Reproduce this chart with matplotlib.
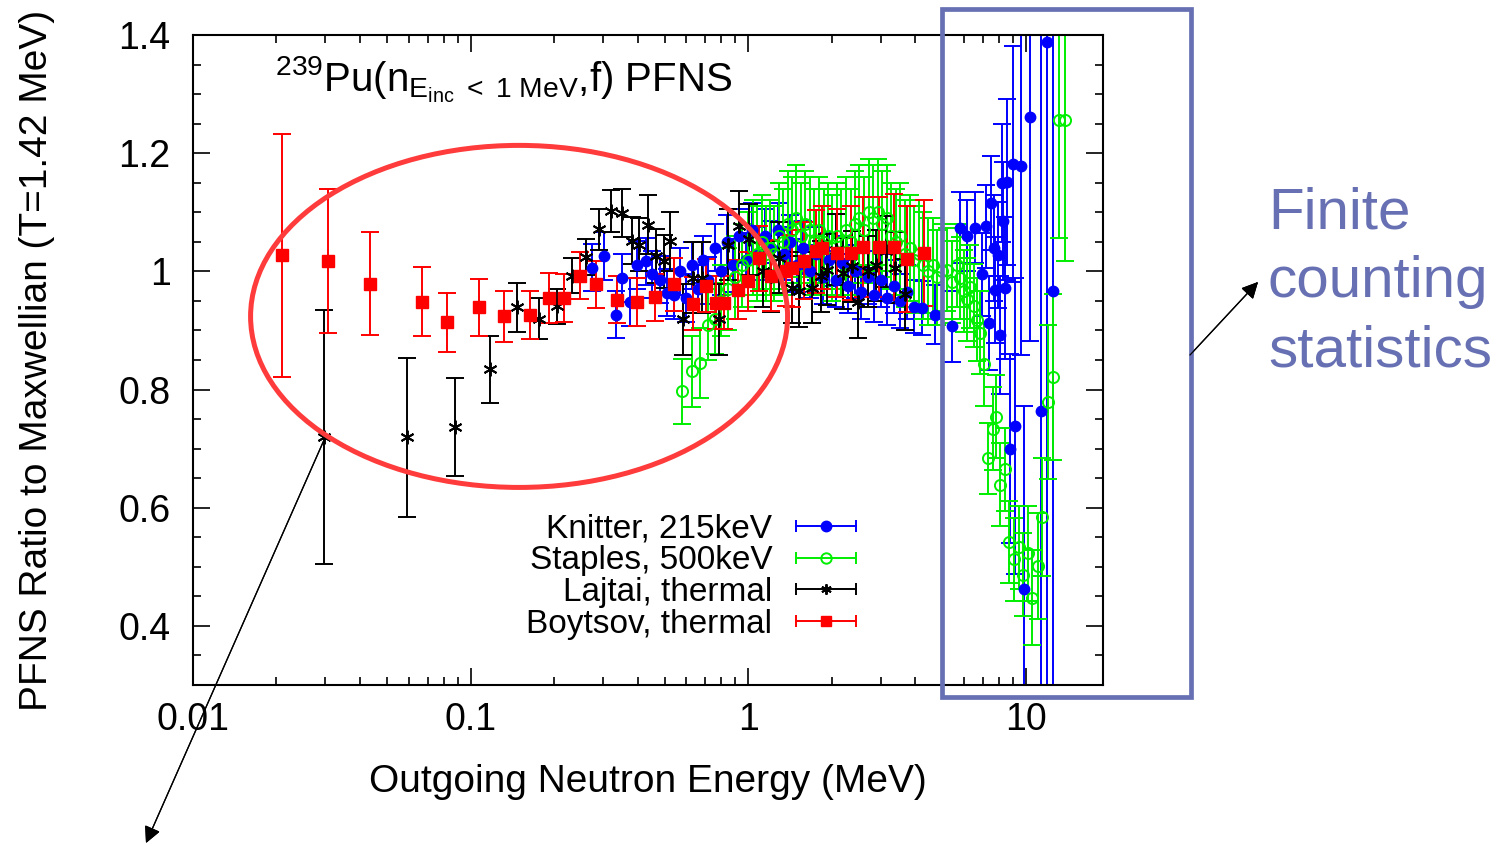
import matplotlib

matplotlib.use("Agg")
import matplotlib.pyplot as plt
from matplotlib.container import ErrorbarContainer
from matplotlib.legend_handler import HandlerBase
from matplotlib.lines import Line2D
from matplotlib.patches import Ellipse, Rectangle
from matplotlib.ticker import FormatStrFormatter, LogLocator, MultipleLocator

# Knitter, 215 keV (blue, filled circles)
knitter_e = [0.273, 0.302, 0.333, 0.35, 0.377, 0.398, 0.43, 0.45, 0.48, 0.51,
             0.54, 0.57, 0.60, 0.63, 0.66, 0.69, 0.72, 0.76, 0.80, 0.84,
             0.88, 0.93, 0.98, 1.03, 1.09, 1.15, 1.21, 1.28, 1.35, 1.42,
             1.50, 1.58, 1.67, 1.76, 1.86, 1.96, 2.07, 2.18, 2.30, 2.43,
             2.56, 2.70, 2.85, 3.01, 3.17, 3.35, 3.53, 3.73, 3.95, 4.24,
             4.70, 5.43, 5.82, 6.15, 6.56, 6.97, 7.2, 7.36, 7.5, 7.67,
             7.75, 7.94, 8.1, 8.2, 8.3, 8.4, 8.6, 8.8, 8.98, 9.18,
             9.65, 9.84, 10.4, 11.4, 11.9, 12.5]
knitter_r = [1.006, 1.026, 0.927, 0.989, 0.948, 1.011, 1.017, 0.995, 0.986, 0.964,
             0.96, 1.0, 0.955, 1.01, 0.97, 1.02, 0.985, 1.04, 1.0, 1.05,
             1.01, 1.06, 1.02, 1.07, 1.03, 1.06, 1.04, 1.07, 1.03, 1.05,
             1.01, 1.04, 1.0, 1.03, 0.99, 1.02, 0.985, 1.015, 0.975, 1.0,
             0.965, 0.99, 0.96, 0.985, 0.955, 0.975, 0.95, 0.965, 0.94, 0.938,
             0.927, 0.907, 1.074, 1.06, 1.074, 0.995, 1.076, 0.913, 1.116, 1.04,
             0.969, 1.028, 0.893, 1.15, 1.085, 0.972, 1.151, 0.70, 1.182, 0.738,
             1.179, 0.462, 1.262, 0.763, 1.389, 0.966]
knitter_err = [0.04, 0.04, 0.04, 0.04, 0.04, 0.04, 0.04, 0.04, 0.04, 0.04,
               0.04, 0.04, 0.04, 0.04, 0.04, 0.04, 0.04, 0.04, 0.04, 0.045,
               0.045, 0.045, 0.045, 0.045, 0.045, 0.045, 0.045, 0.045, 0.045, 0.045,
               0.045, 0.045, 0.045, 0.045, 0.045, 0.045, 0.045, 0.045, 0.045, 0.045,
               0.045, 0.045, 0.045, 0.045, 0.045, 0.045, 0.045, 0.045, 0.045, 0.045,
               0.05, 0.06, 0.06, 0.06, 0.06, 0.07, 0.07, 0.08, 0.08, 0.09,
               0.09, 0.09, 0.10, 0.10, 0.10, 0.12, 0.14, 0.16, 0.20, 0.25,
               0.32, 0.31, 0.38, 0.70, 1.10, 0.70]

# Staples, 500 keV (green, open circles)
staples_e = [0.58, 0.63, 0.67, 0.72, 0.76, 0.80, 0.85, 0.90, 0.95, 1.00,
             1.04, 1.08, 1.12, 1.16, 1.20, 1.24, 1.29, 1.34, 1.39, 1.44,
             1.49, 1.55, 1.61, 1.67, 1.73, 1.80, 1.87, 1.94, 2.01, 2.09,
             2.17, 2.25, 2.34, 2.43, 2.52, 2.62, 2.72, 2.82, 2.93, 3.04,
             3.16, 3.28, 3.41, 3.54, 3.68, 3.82, 3.97, 4.12, 4.28, 4.45,
             4.62, 4.80, 4.99, 5.21, 5.43, 5.66, 5.82, 5.98, 6.15, 6.32,
             6.5, 6.68, 6.87, 7.06, 7.31, 7.6, 7.84, 8.1, 8.4, 8.7,
             9.06, 9.44, 9.76, 10.2, 10.5, 11.1, 11.5, 12.0, 12.5, 13.2,
             13.9]
staples_r = [0.797, 0.831, 0.845, 0.91, 0.92, 0.95, 0.97, 0.99, 1.01, 1.02,
             1.04, 1.03, 1.05, 1.03, 1.04, 1.03, 1.06, 1.05, 1.08, 1.07,
             1.09, 1.06, 1.08, 1.07, 1.05, 1.07, 1.05, 1.06, 1.04, 1.06,
             1.05, 1.07, 1.05, 1.08, 1.09, 1.07, 1.10, 1.09, 1.10, 1.08,
             1.09, 1.06, 1.05, 1.06, 1.03, 1.04, 1.02, 1.03, 1.01, 1.0,
             1.01, 0.99, 1.0, 1.003, 0.982, 1.010, 0.989, 0.967, 0.953, 0.974,
             0.942, 0.918, 0.896, 0.843, 0.684, 0.734, 0.754, 0.639, 0.665, 0.542,
             0.513, 0.533, 0.487, 0.523, 0.448, 0.501, 0.584, 0.779, 0.821, 1.257,
             1.257]
staples_err = [0.055, 0.06, 0.06, 0.06, 0.06, 0.06, 0.07, 0.07, 0.07, 0.08,
               0.08, 0.08, 0.08, 0.08, 0.08, 0.08, 0.09, 0.09, 0.09, 0.09,
               0.09, 0.09, 0.09, 0.09, 0.09, 0.09, 0.09, 0.09, 0.09, 0.09,
               0.09, 0.09, 0.09, 0.09, 0.09, 0.09, 0.09, 0.09, 0.09, 0.09,
               0.09, 0.09, 0.09, 0.09, 0.09, 0.09, 0.09, 0.09, 0.09, 0.09,
               0.08, 0.08, 0.08, 0.07, 0.07, 0.07, 0.07, 0.07, 0.07, 0.07,
               0.07, 0.07, 0.07, 0.07, 0.06, 0.07, 0.07, 0.07, 0.07, 0.07,
               0.07, 0.07, 0.07, 0.08, 0.08, 0.09, 0.10, 0.13, 0.14, 0.20,
               0.24]

# Lajtai, thermal (black, asterisks)
lajtai_e = [0.0297, 0.059, 0.088, 0.118, 0.147, 0.176, 0.205, 0.233, 0.261, 0.291,
            0.321, 0.351, 0.382, 0.404, 0.435, 0.466, 0.496, 0.524, 0.585, 0.631,
            0.684, 0.788, 0.85, 0.929, 1.01, 1.13, 1.21, 1.29, 1.44, 1.52,
            1.70, 1.83, 1.93, 2.07, 2.20, 2.36, 2.49, 2.71, 2.90, 3.13,
            3.38, 3.69]
lajtai_r = [0.719, 0.719, 0.737, 0.834, 0.939, 0.920, 0.941, 0.993, 1.024, 1.071,
            1.102, 1.099, 1.052, 1.045, 1.079, 1.026, 1.017, 1.051, 0.919, 0.989,
            0.989, 0.919, 1.045, 1.076, 1.054, 1.0, 0.992, 1.023, 0.972, 0.966,
            0.972, 0.992, 1.003, 1.037, 0.997, 1.009, 0.948, 1.0, 1.010, 1.034,
            1.006, 0.961]
lajtai_err = [0.215, 0.135, 0.083, 0.057, 0.042, 0.035, 0.03, 0.03, 0.03, 0.035,
              0.035, 0.04, 0.04, 0.045, 0.05, 0.045, 0.045, 0.05, 0.06, 0.06,
              0.06, 0.06, 0.06, 0.06, 0.06, 0.06, 0.06, 0.06, 0.06, 0.06,
              0.06, 0.06, 0.06, 0.06, 0.06, 0.06, 0.06, 0.06, 0.06, 0.06,
              0.06, 0.06]

# Boytsov, thermal (red, filled squares)
boytsov_e = [0.0209, 0.0307, 0.0434, 0.0668, 0.0822, 0.1077, 0.1318, 0.164, 0.192, 0.218,
             0.248, 0.284, 0.338, 0.398, 0.462, 0.542, 0.631, 0.705, 0.764, 0.820,
             0.923, 0.996, 1.097, 1.21, 1.366, 1.44, 1.59, 1.75, 1.84, 2.09,
             2.34, 2.59, 2.97, 3.35, 3.74, 4.32]
boytsov_r = [1.027, 1.017, 0.979, 0.949, 0.914, 0.939, 0.924, 0.926, 0.955, 0.955,
             0.993, 0.978, 0.952, 0.948, 0.956, 0.978, 0.945, 0.976, 0.947, 0.947,
             0.969, 0.983, 1.022, 0.993, 1.001, 1.005, 1.018, 1.034, 1.040, 1.031,
             1.031, 1.041, 1.041, 1.041, 1.021, 1.031]
boytsov_err = [0.205, 0.122, 0.087, 0.059, 0.05, 0.048, 0.043, 0.04, 0.042, 0.04,
               0.04, 0.04, 0.04, 0.04, 0.04, 0.045, 0.045, 0.045, 0.045, 0.045,
               0.05, 0.05, 0.055, 0.06, 0.06, 0.065, 0.065, 0.07, 0.07, 0.075,
               0.08, 0.085, 0.085, 0.09, 0.09, 0.09]

SLATE = "#6670b3"


class GnuplotKey(HandlerBase):
    """Legend key drawn like gnuplot: horizontal bar with end caps and a marker."""

    def create_artists(self, legend, orig_handle, xdescent, ydescent,
                       width, height, fontsize, trans):
        src = orig_handle.lines[0]
        color = src.get_color()
        x0, x1 = -xdescent, width - xdescent
        y = height / 2 - ydescent
        bar = Line2D([x0, x1], [y, y], color=color, lw=1.4)
        caps = Line2D([x0, x1], [y, y], ls="none", marker="|", ms=9,
                      mew=1.4, color=color)
        mark = Line2D([(x0 + x1) / 2], [y], ls="none", marker=src.get_marker(),
                      ms=min(src.get_markersize(), 7.5),
                      mfc=src.get_markerfacecolor(),
                      mec=color, mew=src.get_markeredgewidth())
        for a in (bar, caps, mark):
            a.set_transform(trans)
        return [bar, caps, mark]


def main() -> None:
    plt.rcParams["font.family"] = ["Liberation Sans", "DejaVu Sans"]
    plt.rcParams["mathtext.fontset"] = "custom"
    plt.rcParams["mathtext.rm"] = "Liberation Sans"
    plt.rcParams["mathtext.it"] = "Liberation Sans"
    plt.rcParams["mathtext.default"] = "rm"

    fig = plt.figure(figsize=(15.05, 8.46), dpi=100)
    ax = fig.add_axes([0.1282, 0.1903, 0.6047, 0.7683])

    common = dict(lw=1.4, elinewidth=1.4, capsize=6.5, capthick=1.4, ls="none")
    ax.errorbar(knitter_e, knitter_r, yerr=knitter_err, color="#0000ff",
                marker="o", ms=7.5, label="Knitter, 215keV", **common)
    ax.errorbar(staples_e, staples_r, yerr=staples_err, color="#00ee00",
                marker="o", ms=8, mfc="none", mew=1.4,
                label="Staples, 500keV", **common)
    ax.errorbar(lajtai_e, lajtai_r, yerr=lajtai_err, color="black",
                marker=(6, 2, 0), ms=10, mew=1.4,
                label="Lajtai, thermal", **common)
    ax.errorbar(boytsov_e, boytsov_r, yerr=boytsov_err, color="#ff0000",
                marker="s", ms=8.5, label="Boytsov, thermal", **common)

    ax.set_xscale("log")
    ax.set_xlim(0.01, 19)
    ax.set_ylim(0.3, 1.4)
    ax.xaxis.set_major_locator(LogLocator(base=10, numticks=10))
    ax.xaxis.set_minor_locator(LogLocator(base=10, subs=range(2, 10), numticks=20))
    ax.xaxis.set_major_formatter(FormatStrFormatter("%g"))
    ax.yaxis.set_major_locator(MultipleLocator(0.2))
    ax.yaxis.set_minor_locator(MultipleLocator(0.05))
    ax.yaxis.set_major_formatter(FormatStrFormatter("%g"))
    ax.tick_params(which="both", direction="in", top=True, right=True,
                   labelsize=27, width=1.2)
    ax.tick_params(which="major", length=12)
    ax.tick_params(which="minor", length=6)
    ax.tick_params(axis="x", pad=12)
    ax.tick_params(axis="y", pad=16)
    for s in ax.spines.values():
        s.set_linewidth(1.5)

    ax.set_xlabel("Outgoing Neutron Energy (MeV)", fontsize=28)
    ax.set_ylabel("PFNS Ratio to Maxwellian (T=1.42 MeV)", fontsize=28)
    ax.xaxis.set_label_coords(0.5, -0.122)
    ax.yaxis.set_label_coords(-0.152, 0.5)

    ax.text(0.09, 0.912, r"$^{239}$Pu(n$_{E_{inc}\ <\ 1\ MeV}$,f) PFNS",
            transform=ax.transAxes, fontsize=29, va="baseline", ha="left")

    leg = ax.legend(loc="lower right", bbox_to_anchor=(0.754, 0.034),
                    frameon=False, fontsize=24, markerfirst=False,
                    handlelength=1.8, handletextpad=0.7, labelspacing=0.02,
                    borderpad=0.2, handler_map={ErrorbarContainer: GnuplotKey()})
    leg._legend_handle_box.get_children()[0].align = "right"

    # overlay annotations
    fig.patches.append(Ellipse((0.3449, 0.626), 0.3568, 0.4043,
                               transform=fig.transFigure, fill=False,
                               ec="#ff3b3b", lw=3.6))
    fig.patches.append(Rectangle((0.6257, 0.1761), 0.1657, 0.8132,
                                 transform=fig.transFigure, fill=False,
                                 ec=SLATE, lw=3.4))
    fig.text(0.8425, 0.78, "Finite\ncounting\nstatistics", color=SLATE,
             fontsize=42, ha="left", va="top", linespacing=1.36)
    fig.add_artist(plt.annotate(
        "", xy=(0.8359, 0.6667), xytext=(0.7907, 0.5804),
        xycoords="figure fraction", textcoords="figure fraction",
        arrowprops=dict(arrowstyle="-|>", color="black", lw=0.9,
                        mutation_scale=25, shrinkA=0, shrinkB=0)))
    fig.add_artist(plt.annotate(
        "", xy=(0.0970, 0.0035), xytext=(0.2153, 0.4799),
        xycoords="figure fraction", textcoords="figure fraction",
        arrowprops=dict(arrowstyle="-|>", color="black", lw=0.9,
                        mutation_scale=25, shrinkA=0, shrinkB=0)))

    fig.savefig("out.png", dpi=100)
    plt.close(fig)


if __name__ == "__main__":
    main()
